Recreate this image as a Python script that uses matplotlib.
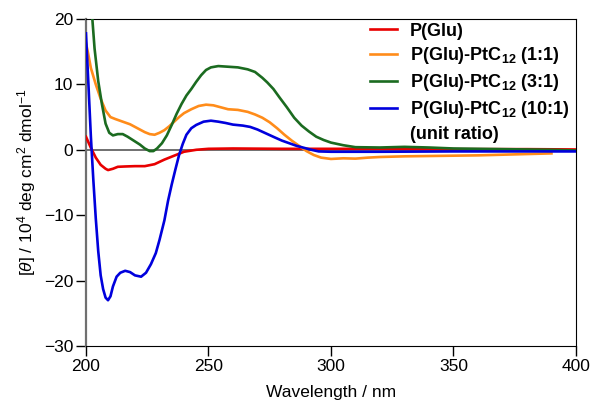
import matplotlib
matplotlib.use('Agg')
import matplotlib.pyplot as plt
import numpy as np

plt.rcParams['font.family'] = ['Liberation Sans', 'DejaVu Sans']
plt.rcParams['mathtext.fontset'] = 'custom'
plt.rcParams['mathtext.rm'] = 'Liberation Sans'
plt.rcParams['mathtext.it'] = 'Liberation Sans:italic'
plt.rcParams['mathtext.bf'] = 'Liberation Sans:bold'

# P(Glu)
wl_red = [200, 202, 204, 206, 208, 209, 211, 213, 216, 220, 224, 228, 232, 236, 240, 245, 250,
          260, 280, 300, 320, 350, 380, 400]
cd_red = [2.0, 0.3, -1.2, -2.3, -2.9, -3.1, -2.9, -2.6, -2.55, -2.5, -2.5, -2.2, -1.5, -0.9, -0.3, 0.0, 0.15,
          0.2, 0.15, 0.15, 0.15, 0.1, 0.1, 0.05]

# P(Glu)-PtC12 (1:1)
wl_orange = [200, 201, 202, 204, 206, 208, 210, 212, 215, 218, 221, 224, 226, 228, 230, 232, 234, 236, 238,
             240, 243, 246, 249, 252, 255, 258, 262, 266, 269, 272, 275, 278, 281, 284, 287, 290, 293, 296,
             300, 305, 310, 315, 320, 330, 340, 350, 360, 370, 380, 390]
cd_orange = [16.3, 14.5, 12.5, 10.0, 7.8, 6.0, 5.0, 4.7, 4.3, 3.9, 3.3, 2.7, 2.4, 2.3, 2.6, 3.0, 3.6, 4.3, 5.0,
             5.6, 6.2, 6.7, 6.9, 6.8, 6.5, 6.2, 6.1, 5.8, 5.4, 4.9, 4.2, 3.3, 2.3, 1.4, 0.6, -0.2, -0.8, -1.2,
             -1.4, -1.3, -1.35, -1.2, -1.1, -1.0, -0.95, -0.9, -0.85, -0.75, -0.65, -0.55]

# P(Glu)-PtC12 (3:1)
wl_green = [202.5, 203.5, 205, 206.5, 208, 209.5, 211, 213, 215, 217, 219.5, 222, 224, 226, 227.5, 229, 231,
            233, 235, 237, 239, 241, 243, 245, 247, 249, 251, 254, 258, 262, 266, 269, 272, 274, 276.5, 279,
            282, 285, 288, 291, 294, 297, 300, 305, 310, 320, 330, 340, 350, 360, 370, 380, 390, 400]
cd_green = [20.5, 15.5, 10.5, 7.0, 4.0, 2.6, 2.2, 2.4, 2.4, 2.0, 1.4, 0.8, 0.2, -0.2, -0.2, 0.2, 1.0,
            2.2, 3.8, 5.5, 7.0, 8.3, 9.3, 10.4, 11.4, 12.2, 12.6, 12.8, 12.7, 12.6, 12.3, 11.9, 11.0, 10.3, 9.3, 8.0,
            6.5, 4.9, 3.7, 2.8, 2.0, 1.5, 1.1, 0.7, 0.4, 0.35, 0.45, 0.35, 0.2, 0.15, 0.1, 0.05, 0.0, -0.1]

# P(Glu)-PtC12 (10:1)
wl_blue = [200, 201, 202, 203, 204, 205, 206, 207, 208, 209, 210, 211, 212.5, 214, 216, 218, 220, 222.5,
           224.5, 226.5, 228.5, 230, 232, 233.5, 235, 236.5, 238, 239.5, 241, 243, 245, 248, 251, 254, 257,
           260, 264, 267, 270, 273.5, 277, 280, 283, 286, 289, 292, 295, 300, 320, 350, 380, 400]
cd_blue = [17.8, 10, 2, -4.6, -10.5, -15.5, -19.2, -21.3, -22.6, -23.0, -22.4, -20.9, -19.4, -18.8, -18.5,
           -18.7, -19.2, -19.4, -18.8, -17.5, -15.8, -13.8, -10.8, -7.8, -5.3, -3.0, -0.8, 0.9, 2.3, 3.3, 3.8,
           4.3, 4.45, 4.3, 4.1, 3.85, 3.7, 3.5, 3.1, 2.5, 1.9, 1.4, 1.0, 0.6, 0.3, 0.0, -0.25, -0.3, -0.3,
           -0.25, -0.25, -0.25]

fig = plt.figure(figsize=(5.95, 4.03), dpi=100)
ax = fig.add_axes([0.1445, 0.1414, 0.8235, 0.8115])

ax.axhline(0, color='#707070', lw=1.4, zorder=1)

lw = 1.9
ax.plot(wl_red, cd_red, color='#e80000', lw=lw, label='P(Glu)', zorder=3)
ax.plot(wl_orange, cd_orange, color='#ff8c1a', lw=lw, label=r'P(Glu)-PtC$_\mathbf{12}$ (1:1)', zorder=3)
ax.plot(wl_green, cd_green, color='#1b6b20', lw=lw, label=r'P(Glu)-PtC$_\mathbf{12}$ (3:1)', zorder=3)
ax.plot(wl_blue, cd_blue, color='#0000dd', lw=lw, label=r'P(Glu)-PtC$_\mathbf{12}$ (10:1)', zorder=3)
ax.plot([], [], color='none', label='(unit ratio)')

ax.set_xlim(200, 400)
ax.set_ylim(-30, 20)
ax.set_xticks([200, 250, 300, 350, 400])
ax.set_yticks([-30, -20, -10, 0, 10, 20])
ax.tick_params(direction='out', length=7, width=1, labelsize=12.5, pad=2)
ax.spines['left'].set_color('#707070')
ax.spines['left'].set_linewidth(1.6)

ax.set_xlabel('Wavelength / nm', fontsize=12.5, labelpad=8)
ax.set_ylabel(r'[$\theta$] / 10$^4$ deg cm$^2$ dmol$^{-1}$', fontsize=12.5, labelpad=4)

leg = ax.legend(loc='upper right', frameon=False, prop={'weight': 'bold', 'size': 13},
                handlelength=1.5, handletextpad=0.75, labelspacing=0.32,
                borderaxespad=0.0, borderpad=0.2, bbox_to_anchor=(0.995, 1.0))

fig.savefig('out.png', dpi=100)
